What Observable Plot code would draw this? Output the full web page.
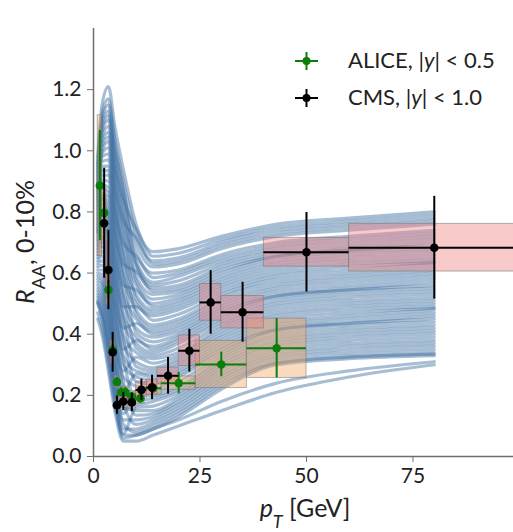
<!DOCTYPE html>
<html><head><meta charset="utf-8">
<script src="https://cdn.jsdelivr.net/npm/d3@7"></script>
<script src="https://cdn.jsdelivr.net/npm/@observablehq/plot@0.6"></script>
<style>
body{margin:0;background:#fff;}
#chart svg g[aria-label$="tick"]{stroke:#6e6e6e;}
</style>
</head><body><div id="chart"></div>
<script>
// model curves: R_AA values at these pT knots (GeV)
const knots = [1, 2, 3.5, 5, 7, 10, 14, 20, 30, 43, 60, 80];
const curves = [
  [0.45,0.40,0.28,0.15,0.05,0.05,0.07,0.10,0.15,0.21,0.26,0.30],
  [0.47,0.42,0.30,0.17,0.07,0.07,0.09,0.12,0.18,0.24,0.28,0.31],
  [0.50,0.45,0.33,0.19,0.06,0.07,0.09,0.13,0.22,0.30,0.32,0.33],
  [0.51,0.47,0.36,0.22,0.09,0.09,0.11,0.15,0.24,0.31,0.33,0.34],
  [0.53,0.50,0.39,0.25,0.12,0.12,0.13,0.17,0.26,0.33,0.35,0.36],
  [0.55,0.53,0.43,0.29,0.16,0.15,0.15,0.19,0.28,0.35,0.37,0.38],
  [0.57,0.56,0.46,0.32,0.19,0.17,0.18,0.21,0.30,0.37,0.39,0.40],
  [0.59,0.58,0.50,0.36,0.23,0.20,0.20,0.23,0.32,0.39,0.41,0.42],
  [0.61,0.61,0.53,0.39,0.26,0.23,0.22,0.26,0.34,0.41,0.43,0.44],
  [0.63,0.64,0.57,0.43,0.30,0.26,0.25,0.28,0.36,0.42,0.44,0.46],
  [0.65,0.67,0.60,0.47,0.33,0.28,0.27,0.30,0.38,0.44,0.46,0.48],
  [0.67,0.70,0.64,0.50,0.37,0.31,0.29,0.32,0.40,0.46,0.48,0.49],
  [0.69,0.72,0.67,0.54,0.40,0.34,0.32,0.34,0.42,0.48,0.50,0.51],
  [0.71,0.75,0.71,0.57,0.44,0.37,0.34,0.37,0.44,0.50,0.52,0.53],
  [0.73,0.78,0.74,0.61,0.47,0.39,0.36,0.39,0.46,0.52,0.54,0.55],
  [0.74,0.81,0.78,0.64,0.51,0.42,0.39,0.41,0.48,0.53,0.55,0.57],
  [0.76,0.84,0.81,0.68,0.54,0.45,0.41,0.43,0.50,0.55,0.57,0.59],
  [0.78,0.86,0.85,0.72,0.58,0.48,0.43,0.45,0.52,0.57,0.59,0.61],
  [0.80,0.89,0.88,0.75,0.61,0.50,0.46,0.48,0.54,0.59,0.61,0.63],
  [0.82,0.92,0.92,0.79,0.65,0.53,0.48,0.50,0.56,0.61,0.63,0.64],
  [0.84,0.95,0.95,0.82,0.68,0.56,0.50,0.52,0.58,0.63,0.65,0.66],
  [0.86,0.98,0.99,0.86,0.72,0.59,0.53,0.54,0.60,0.65,0.67,0.68],
  [0.88,1.00,1.03,0.89,0.76,0.62,0.55,0.56,0.62,0.66,0.68,0.70],
  [0.90,1.03,1.06,0.93,0.79,0.64,0.57,0.59,0.64,0.68,0.70,0.72],
  [0.92,1.06,1.10,0.96,0.83,0.67,0.60,0.61,0.66,0.70,0.72,0.74],
  [0.94,1.09,1.13,1.00,0.86,0.70,0.62,0.63,0.68,0.72,0.74,0.76],
  [0.96,1.12,1.17,1.04,0.90,0.73,0.64,0.65,0.70,0.74,0.76,0.78],
  [0.98,1.15,1.21,1.08,0.94,0.76,0.67,0.68,0.72,0.76,0.78,0.80],
  [0.505,0.46,0.345,0.205,0.075,0.16,0.165,0.20,0.29,0.36,0.38,0.39],
  [0.52,0.485,0.375,0.235,0.105,0.08,0.10,0.14,0.23,0.305,0.325,0.335],
  [0.54,0.515,0.41,0.27,0.14,0.215,0.21,0.245,0.33,0.40,0.42,0.43],
  [0.56,0.545,0.445,0.305,0.175,0.105,0.12,0.16,0.25,0.32,0.34,0.35],
  [0.58,0.57,0.48,0.34,0.21,0.27,0.26,0.29,0.37,0.43,0.45,0.47],
  [0.60,0.595,0.515,0.375,0.245,0.135,0.14,0.18,0.27,0.34,0.36,0.37],
  [0.62,0.625,0.55,0.41,0.28,0.325,0.305,0.33,0.41,0.47,0.49,0.50],
  [0.64,0.655,0.585,0.45,0.315,0.185,0.19,0.22,0.31,0.38,0.40,0.41],
  [0.66,0.685,0.62,0.485,0.35,0.38,0.35,0.38,0.45,0.51,0.53,0.54],
  [0.68,0.71,0.655,0.52,0.385,0.245,0.235,0.27,0.35,0.415,0.435,0.45],
  [0.70,0.735,0.69,0.555,0.42,0.435,0.40,0.42,0.49,0.54,0.56,0.58],
  [0.72,0.765,0.725,0.59,0.455,0.295,0.28,0.31,0.39,0.45,0.47,0.485],
  [0.735,0.795,0.76,0.625,0.49,0.49,0.445,0.465,0.53,0.58,0.60,0.62],
  [0.75,0.825,0.795,0.66,0.525,0.355,0.33,0.355,0.43,0.49,0.51,0.52],
  [0.77,0.85,0.83,0.70,0.56,0.545,0.49,0.51,0.57,0.62,0.64,0.65],
  [0.79,0.875,0.865,0.735,0.595,0.405,0.375,0.40,0.47,0.525,0.545,0.56],
  [0.81,0.905,0.90,0.77,0.63,0.605,0.54,0.55,0.61,0.655,0.675,0.69],
  [0.83,0.935,0.935,0.805,0.665,0.465,0.42,0.44,0.51,0.56,0.58,0.60],
  [0.85,0.965,0.97,0.84,0.70,0.655,0.585,0.60,0.65,0.69,0.71,0.73],
  [0.87,0.99,1.01,0.875,0.74,0.515,0.47,0.49,0.55,0.60,0.62,0.635],
  [0.89,1.015,1.045,0.91,0.775,0.715,0.63,0.64,0.69,0.73,0.75,0.77],
  [0.91,1.045,1.08,0.945,0.81,0.575,0.515,0.53,0.59,0.64,0.66,0.67],
  [0.93,1.075,1.115,0.98,0.845,0.745,0.655,0.665,0.71,0.75,0.77,0.79],
  [0.95,1.105,1.15,1.02,0.88,0.63,0.56,0.575,0.63,0.67,0.69,0.71]
];

// ALICE D0, |y| < 0.5
const aliceLo   = [1, 2, 3, 4, 5, 6, 7, 8, 10, 12, 16, 24, 36];
const aliceHi   = [2, 3, 4, 5, 6, 7, 8, 10, 12, 16, 24, 36, 50];
const alicePt   = [1.5, 2.5, 3.5, 4.5, 5.5, 6.5, 7.5, 9, 11, 14, 20, 30, 43];
const aliceRaa  = [0.886, 0.797, 0.545, 0.348, 0.244, 0.210, 0.210, 0.196, 0.190, 0.223, 0.240, 0.301, 0.354];
const aliceStat = [0.180, 0.060, 0.030, 0.020, 0.015, 0.015, 0.015, 0.012, 0.015, 0.015, 0.035, 0.040, 0.097];
const aliceSyst = [0.230, 0.080, 0.050, 0.030, 0.020, 0.018, 0.018, 0.017, 0.017, 0.020, 0.022, 0.077, 0.097];

// CMS D0, |y| < 1.0
const cmsLo   = [2, 3, 4, 5, 6, 8, 10, 12.5, 15, 20, 25, 30, 40, 60];
const cmsHi   = [3, 4, 5, 6, 8, 10, 12.5, 15, 20, 25, 30, 40, 60, 100];
const cmsPt   = [2.5, 3.5, 4.5, 5.5, 7, 9, 11.25, 13.75, 17.5, 22.5, 27.5, 35, 50, 80];
const cmsRaa  = [0.763, 0.610, 0.341, 0.168, 0.180, 0.177, 0.218, 0.226, 0.264, 0.346, 0.504, 0.472, 0.668, 0.683];
const cmsStat = [0.180, 0.130, 0.065, 0.030, 0.030, 0.030, 0.035, 0.040, 0.060, 0.070, 0.104, 0.098, 0.130, 0.168];
const cmsSyst = [0.080, 0.090, 0.040, 0.020, 0.020, 0.020, 0.025, 0.025, 0.027, 0.050, 0.060, 0.053, 0.047, 0.078];

const xTicks = [0, 25, 50, 75];
const yTicks = [0.0, 0.2, 0.4, 0.6, 0.8, 1.0, 1.2];

const curveRows = curves.flatMap((c, i) => c.map((v, j) => ({id: i, pt: knots[j], raa: v})));
const alice = alicePt.map((p, i) => ({pt: p, lo: aliceLo[i], hi: aliceHi[i], raa: aliceRaa[i], stat: aliceStat[i], syst: aliceSyst[i]}));
const cms = cmsPt.map((p, i) => ({pt: p, lo: cmsLo[i], hi: cmsHi[i], raa: cmsRaa[i], stat: cmsStat[i], syst: cmsSyst[i]}));

const GREEN = "#0a7d0a";
const font = "Lato, 'DejaVu Sans', sans-serif";

const plot = Plot.plot({
  width: 513, height: 532,
  marginLeft: 93, marginRight: 0, marginTop: 28, marginBottom: 76,
  style: {fontFamily: font, fontSize: "21px", color: "#222", background: "white"},
  x: {domain: [0, 98.6]},
  y: {domain: [0, 1.4]},
  marks: [
    Plot.line(curveRows, {x: "pt", y: "raa", z: "id", stroke: "#3c6ca0", strokeOpacity: 0.45, strokeWidth: 3.2, curve: "monotone-x"}),
    Plot.rect(alice, {x1: "lo", x2: "hi", y1: d => d.raa - d.syst, y2: d => d.raa + d.syst, fill: "sandybrown", fillOpacity: 0.4, stroke: "#777", strokeOpacity: 0.55, strokeWidth: 1, clip: true}),
    Plot.rect(cms, {x1: "lo", x2: "hi", y1: d => d.raa - d.syst, y2: d => d.raa + d.syst, fill: "lightcoral", fillOpacity: 0.42, stroke: "#777", strokeOpacity: 0.55, strokeWidth: 1, clip: true}),
    Plot.ruleX(alice, {x: "pt", y1: d => d.raa - d.stat, y2: d => d.raa + d.stat, stroke: GREEN, strokeWidth: 2}),
    Plot.ruleY(alice, {y: "raa", x1: "lo", x2: "hi", stroke: GREEN, strokeWidth: 2}),
    Plot.dot(alice, {x: "pt", y: "raa", r: 4.3, fill: GREEN}),
    Plot.ruleX(cms, {x: "pt", y1: d => d.raa - d.stat, y2: d => d.raa + d.stat, stroke: "black", strokeWidth: 2}),
    Plot.ruleY(cms, {y: "raa", x1: "lo", x2: "hi", stroke: "black", strokeWidth: 2, clip: true}),
    Plot.dot(cms, {x: "pt", y: "raa", r: 4.3, fill: "black"}),
    Plot.ruleX([0], {stroke: "#6e6e6e", strokeWidth: 1.5}),
    Plot.ruleY([0], {stroke: "#6e6e6e", strokeWidth: 1.5}),
    Plot.axisX({ticks: xTicks, tickSize: 6, tickPadding: 6, label: null, fontSize: 21}),
    Plot.axisY({ticks: yTicks, tickSize: 6, tickPadding: 6, tickFormat: d3.format(".1f"), label: null, fontSize: 21})
  ]
});

const svg = d3.select(plot);
// axis titles
const yl = svg.append("text")
  .attr("transform", "translate(34,242) rotate(-90)")
  .attr("text-anchor", "middle")
  .style("font-family", font).style("font-size", "25px").attr("fill", "#222");
yl.append("tspan").style("font-style", "italic").text("R");
yl.append("tspan").attr("baseline-shift", "sub").style("font-size", "18px").text("AA");
yl.append("tspan").text(", 0-10%");

const xl = svg.append("text")
  .attr("x", 305).attr("y", 517)
  .attr("text-anchor", "middle")
  .style("font-family", font).style("font-size", "25px").attr("fill", "#222");
xl.append("tspan").style("font-style", "italic").text("p");
xl.append("tspan").attr("baseline-shift", "sub").style("font-size", "18px").style("font-style", "italic").text("T");
xl.append("tspan").text(" [GeV]");

// legend
const legend = [
  {label: "ALICE", rap: "0.5", color: GREEN, y: 61},
  {label: "CMS", rap: "1.0", color: "black", y: 98}
];
legend.forEach(d => {
  const g = svg.append("g");
  g.append("line").attr("x1", 295).attr("x2", 318).attr("y1", d.y).attr("y2", d.y).attr("stroke", d.color).attr("stroke-width", 2);
  g.append("line").attr("x1", 306.5).attr("x2", 306.5).attr("y1", d.y - 9).attr("y2", d.y + 9).attr("stroke", d.color).attr("stroke-width", 2);
  g.append("circle").attr("cx", 306.5).attr("cy", d.y).attr("r", 4).attr("fill", d.color);
  const t = g.append("text").attr("x", 348).attr("y", d.y + 7)
    .attr("text-anchor", "start")
    .style("font-family", font).style("font-size", "22px").attr("fill", "#222");
  t.append("tspan").text(d.label + ", |");
  t.append("tspan").style("font-style", "italic").text("y");
  t.append("tspan").text("| < " + d.rap);
});

document.getElementById("chart").appendChild(plot);
</script>
</body></html>
